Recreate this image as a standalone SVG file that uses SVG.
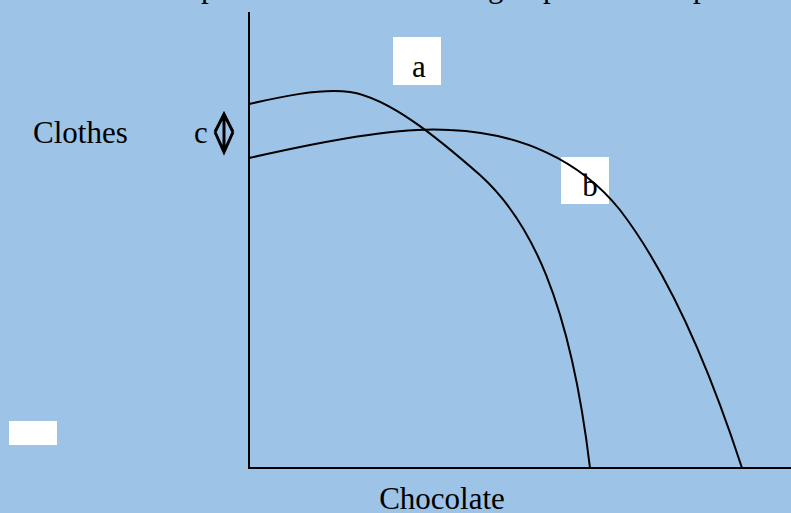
<svg xmlns="http://www.w3.org/2000/svg" width="791" height="513" viewBox="0 0 791 513">
<style>
.t{font-family:"Liberation Serif","Times New Roman",serif;font-size:31px;fill:#000}
.ln{fill:none;stroke:#000;stroke-width:2}
.arr{fill:none;stroke:#000;stroke-width:3}
.box{fill:#fff}
</style>
<rect width="791" height="513" fill="#9dc3e6"/>
<text class="t"><tspan x="201" y="-3">p</tspan><tspan x="488" y="-3">g</tspan><tspan x="543" y="-3">p</tspan><tspan x="693" y="-3">p</tspan></text>
<g id="label-a">
<rect class="box" x="393" y="37" width="48" height="48"/>
<text class="t" x="419" y="77" text-anchor="middle">a</text>
</g>
<g id="label-b">
<rect class="box" x="561" y="157" width="48" height="47"/>
<text class="t" x="590" y="196" text-anchor="middle">b</text>
</g>
<g id="blank">
<rect class="box" x="9" y="421" width="48" height="24"/>
</g>
<g id="axes">
<path class="ln" d="M249,12 V468 H791"/>
</g>
<g id="connectors">
<path class="ln" d="M249,104 C280,97 320,88 350,92 C390,98 440,140 480,175 C530,220 570,300 590,468"/>
<path class="ln" d="M249,158 C320,142 400,126 450,130 C520,133 580,160 620,210 C670,275 710,370 742,468"/>
<path class="arr" d="M224,114 V152 M215,132 L224,114 L233,132 M215,132 L224,152 L233,132"/>
</g>
<g id="label-clothes">
<text class="t" x="33" y="143">Clothes</text>
<text class="t" x="194" y="143">c</text>
</g>
<g id="label-chocolate">
<text class="t" x="442" y="509" text-anchor="middle">Chocolate</text>
</g>
</svg>
